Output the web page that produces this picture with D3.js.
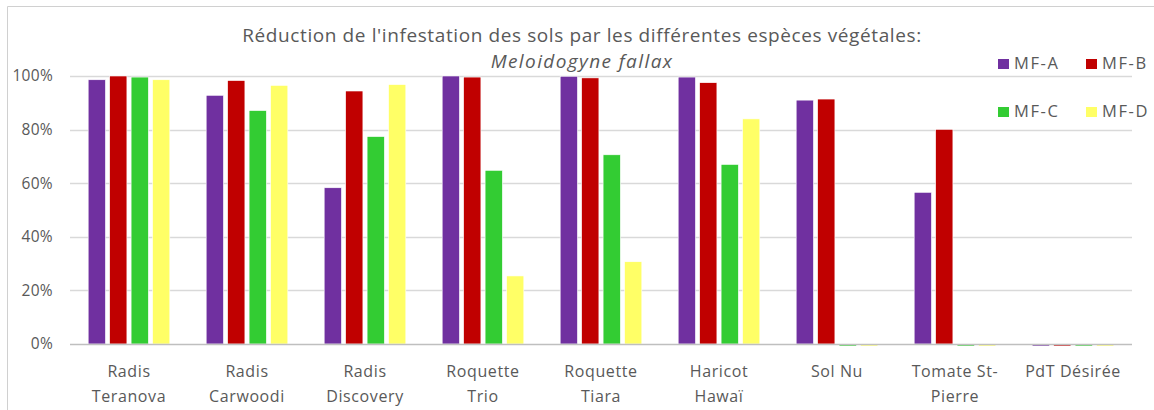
<!DOCTYPE html>
<html>
<head>
<meta charset="utf-8">
<script src="https://cdn.jsdelivr.net/npm/d3@7"></script>
<style>
  body { margin: 0; background: #fff; }
  svg { display: block; font-family: "Open Sans", "Liberation Sans", sans-serif; }
</style>
</head>
<body>
<div id="chart"></div>
<script>
// data
var categories = ["Radis Teranova", "Radis Carwoodi", "Radis Discovery", "Roquette Trio",
                  "Roquette Tiara", "Haricot Hawaï", "Sol Nu", "Tomate St-Pierre", "PdT Désirée"];
var catLines = [["Radis", "Teranova"], ["Radis", "Carwoodi"], ["Radis", "Discovery"], ["Roquette", "Trio"],
                ["Roquette", "Tiara"], ["Haricot", "Hawaï"], ["Sol Nu"], ["Tomate St-", "Pierre"], ["PdT Désirée"]];
var seriesNames = ["MF-A", "MF-B", "MF-C", "MF-D"];
var mfA = [0.986, 0.928, 0.583, 1.000, 0.999, 0.996, 0.910, 0.566, 0];
var mfB = [1.000, 0.983, 0.944, 0.996, 0.993, 0.975, 0.914, 0.801, 0];
var mfC = [0.996, 0.871, 0.774, 0.648, 0.706, 0.670, 0, 0, 0];
var mfD = [0.986, 0.965, 0.968, 0.254, 0.307, 0.840, 0, 0, 0];
var yTicks = [0, 0.2, 0.4, 0.6, 0.8, 1.0];
var colors = ["#7030a0", "#c00000", "#33cc33", "#ffff66"];

var width = 1154, height = 410;
var margin = {top: 76, right: 22, bottom: 66, left: 70};

var svg = d3.select("#chart").append("svg")
    .attr("width", width)
    .attr("height", height);

// outer frame (top and left edges only show in the picture)
svg.append("line").attr("x1", 7.5).attr("x2", width).attr("y1", 6.5).attr("y2", 6.5)
    .attr("stroke", "#d0d0d0");
svg.append("line").attr("x1", 7.5).attr("x2", 7.5).attr("y1", 6.5).attr("y2", height)
    .attr("stroke", "#d0d0d0");

var x0 = d3.scaleBand()
    .domain(categories)
    .range([margin.left, width - margin.right])
    .paddingInner(0.308)
    .paddingOuter(0.154);

var x1 = d3.scaleBand()
    .domain(seriesNames)
    .range([0, x0.bandwidth()])
    .paddingInner(0.195);

var y = d3.scaleLinear()
    .domain([0, 1])
    .range([height - margin.bottom, margin.top]);

// gridlines
svg.append("g")
    .selectAll("line")
    .data(yTicks.slice(1))
    .enter().append("line")
    .attr("x1", margin.left).attr("x2", width - margin.right)
    .attr("y1", function(d) { return Math.round(y(d)) + 0.5; })
    .attr("y2", function(d) { return Math.round(y(d)) + 0.5; })
    .attr("stroke", "#d9d9d9")
    .attr("stroke-width", 1.3);

// y axis labels
var yAxis = svg.append("g")
    .attr("transform", "translate(" + margin.left + ",0)")
    .call(d3.axisLeft(y).tickValues(yTicks).tickFormat(d3.format(".0%")).tickSize(0).tickPadding(17));
yAxis.select(".domain").remove();
yAxis.selectAll("text")
    .attr("fill", "#595959")
    .style("font-size", "15.5px")
    .style("letter-spacing", "0.3px")
    .style("font-family", "'Open Sans', sans-serif");

// bars
var allSeries = [mfA, mfB, mfC, mfD];
var groups = svg.append("g").selectAll("g")
    .data(categories)
    .enter().append("g")
    .attr("transform", function(d) { return "translate(" + x0(d) + ",0)"; });

groups.selectAll("rect")
    .data(function(d, i) {
        return seriesNames.map(function(s, j) { return {s: s, j: j, v: allSeries[j][i]}; });
    })
    .enter().append("rect")
    .attr("x", function(d) { return x1(d.s); })
    .attr("width", x1.bandwidth())
    .attr("y", function(d) { return d.v > 0 ? y(d.v) : y(0); })
    .attr("height", function(d) { return d.v > 0 ? y(0) - y(d.v) : 2; })
    .attr("fill", function(d) { return colors[d.j]; })
    .attr("stroke", "#fff")
    .attr("stroke-width", 0.6);

// x axis line
svg.append("line")
    .attr("x1", margin.left).attr("x2", width - margin.right)
    .attr("y1", y(0) + 0.5).attr("y2", y(0) + 0.5)
    .attr("stroke", "#bfbfbf")
    .attr("stroke-width", 1.3);

// x labels
var xl = svg.append("g").selectAll("text")
    .data(categories)
    .enter().append("text")
    .attr("x", function(d) { return x0(d) + x0.bandwidth() / 2; })
    .attr("y", y(0) + 33)
    .attr("text-anchor", "middle")
    .attr("fill", "#595959")
    .style("font-size", "16px")
    .style("letter-spacing", "0.6px");
xl.each(function(d, i) {
    var t = d3.select(this);
    catLines[i].forEach(function(line, k) {
        t.append("tspan")
            .attr("x", x0(d) + x0.bandwidth() / 2)
            .attr("dy", k === 0 ? 0 : 25)
            .text(line);
    });
});

// title
svg.append("text")
    .attr("x", 582).attr("y", 42)
    .attr("text-anchor", "middle")
    .attr("fill", "#595959")
    .style("font-size", "19px")
    .style("letter-spacing", "0.6px")
    .text("Réduction de l'infestation des sols par les différentes espèces végétales:");
svg.append("text")
    .attr("x", 582).attr("y", 68)
    .attr("text-anchor", "middle")
    .attr("fill", "#595959")
    .style("font-size", "19px")
    .style("letter-spacing", "1.4px")
    .style("font-style", "italic")
    .text("Meloidogyne fallax");

// legend
var legendPos = [[998, 59], [1086, 59], [998, 107], [1086, 107]];
var lg = svg.append("g").selectAll("g")
    .data(seriesNames)
    .enter().append("g")
    .attr("transform", function(d, i) { return "translate(" + legendPos[i][0] + "," + legendPos[i][1] + ")"; });
lg.append("rect")
    .attr("width", 11).attr("height", 10)
    .attr("fill", function(d, i) { return colors[i]; });
lg.append("text")
    .attr("x", 16).attr("y", 10)
    .attr("fill", "#595959")
    .style("font-size", "16.5px")
    .style("letter-spacing", "1.6px")
    .text(function(d) { return d; });
</script>
</body>
</html>
